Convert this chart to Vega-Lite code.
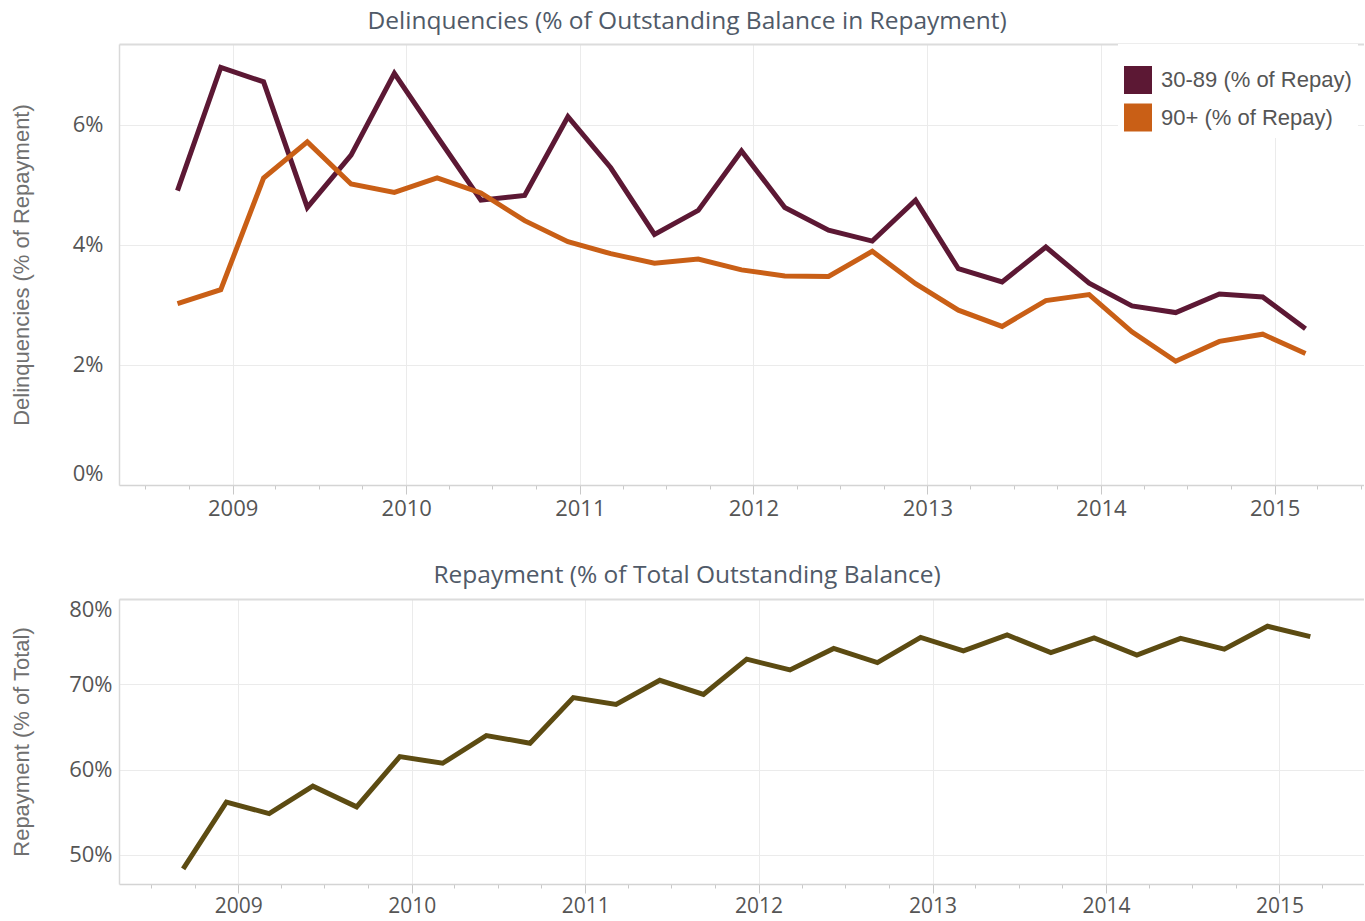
{
  "$schema": "https://vega.github.io/schema/vega-lite/v6.json",
  "background": "white",
  "padding": {"left": 10, "top": 8, "right": 0, "bottom": 0},
  "config": {
    "view": {"stroke": null},
    "font": "Open Sans",
    "title": {"font": "Open Sans", "fontSize": 24.5, "fontWeight": "normal", "color": "#505a68", "anchor": "middle", "frame": "bounds", "baseline": "alphabetic", "offset": 10}
  },
  "datasets": {
    "delinquency": [
      {"date": "2008-09-07", "series": "30-89 (% of Repay)", "value": 4.90},
      {"date": "2008-12-07", "series": "30-89 (% of Repay)", "value": 6.95},
      {"date": "2009-03-07", "series": "30-89 (% of Repay)", "value": 6.71},
      {"date": "2009-06-07", "series": "30-89 (% of Repay)", "value": 4.62},
      {"date": "2009-09-07", "series": "30-89 (% of Repay)", "value": 5.49},
      {"date": "2009-12-07", "series": "30-89 (% of Repay)", "value": 6.85},
      {"date": "2010-03-07", "series": "30-89 (% of Repay)", "value": 5.80},
      {"date": "2010-06-07", "series": "30-89 (% of Repay)", "value": 4.74},
      {"date": "2010-09-07", "series": "30-89 (% of Repay)", "value": 4.82},
      {"date": "2010-12-07", "series": "30-89 (% of Repay)", "value": 6.13},
      {"date": "2011-03-07", "series": "30-89 (% of Repay)", "value": 5.28},
      {"date": "2011-06-07", "series": "30-89 (% of Repay)", "value": 4.17},
      {"date": "2011-09-07", "series": "30-89 (% of Repay)", "value": 4.57},
      {"date": "2011-12-07", "series": "30-89 (% of Repay)", "value": 5.56},
      {"date": "2012-03-07", "series": "30-89 (% of Repay)", "value": 4.62},
      {"date": "2012-06-07", "series": "30-89 (% of Repay)", "value": 4.24},
      {"date": "2012-09-07", "series": "30-89 (% of Repay)", "value": 4.06},
      {"date": "2012-12-07", "series": "30-89 (% of Repay)", "value": 4.74},
      {"date": "2013-03-07", "series": "30-89 (% of Repay)", "value": 3.60},
      {"date": "2013-06-07", "series": "30-89 (% of Repay)", "value": 3.38},
      {"date": "2013-09-07", "series": "30-89 (% of Repay)", "value": 3.96},
      {"date": "2013-12-07", "series": "30-89 (% of Repay)", "value": 3.36},
      {"date": "2014-03-07", "series": "30-89 (% of Repay)", "value": 2.98},
      {"date": "2014-06-07", "series": "30-89 (% of Repay)", "value": 2.87},
      {"date": "2014-09-07", "series": "30-89 (% of Repay)", "value": 3.18},
      {"date": "2014-12-07", "series": "30-89 (% of Repay)", "value": 3.13},
      {"date": "2015-03-07", "series": "30-89 (% of Repay)", "value": 2.60},
      {"date": "2008-09-07", "series": "90+ (% of Repay)", "value": 3.02},
      {"date": "2008-12-07", "series": "90+ (% of Repay)", "value": 3.25},
      {"date": "2009-03-07", "series": "90+ (% of Repay)", "value": 5.11},
      {"date": "2009-06-07", "series": "90+ (% of Repay)", "value": 5.71},
      {"date": "2009-09-07", "series": "90+ (% of Repay)", "value": 5.01},
      {"date": "2009-12-07", "series": "90+ (% of Repay)", "value": 4.87},
      {"date": "2010-03-07", "series": "90+ (% of Repay)", "value": 5.11},
      {"date": "2010-06-07", "series": "90+ (% of Repay)", "value": 4.86},
      {"date": "2010-09-07", "series": "90+ (% of Repay)", "value": 4.40},
      {"date": "2010-12-07", "series": "90+ (% of Repay)", "value": 4.05},
      {"date": "2011-03-07", "series": "90+ (% of Repay)", "value": 3.85},
      {"date": "2011-06-07", "series": "90+ (% of Repay)", "value": 3.69},
      {"date": "2011-09-07", "series": "90+ (% of Repay)", "value": 3.76},
      {"date": "2011-12-07", "series": "90+ (% of Repay)", "value": 3.58},
      {"date": "2012-03-07", "series": "90+ (% of Repay)", "value": 3.48},
      {"date": "2012-06-07", "series": "90+ (% of Repay)", "value": 3.47},
      {"date": "2012-09-07", "series": "90+ (% of Repay)", "value": 3.89},
      {"date": "2012-12-07", "series": "90+ (% of Repay)", "value": 3.35},
      {"date": "2013-03-07", "series": "90+ (% of Repay)", "value": 2.91},
      {"date": "2013-06-07", "series": "90+ (% of Repay)", "value": 2.64},
      {"date": "2013-09-07", "series": "90+ (% of Repay)", "value": 3.07},
      {"date": "2013-12-07", "series": "90+ (% of Repay)", "value": 3.17},
      {"date": "2014-03-07", "series": "90+ (% of Repay)", "value": 2.55},
      {"date": "2014-06-07", "series": "90+ (% of Repay)", "value": 2.06},
      {"date": "2014-09-07", "series": "90+ (% of Repay)", "value": 2.39},
      {"date": "2014-12-07", "series": "90+ (% of Repay)", "value": 2.51},
      {"date": "2015-03-07", "series": "90+ (% of Repay)", "value": 2.19}
    ],
    "repayment": [
      {"date": "2008-09-07", "value": 48.36},
      {"date": "2008-12-07", "value": 56.2},
      {"date": "2009-03-07", "value": 54.85},
      {"date": "2009-06-07", "value": 58.07},
      {"date": "2009-09-07", "value": 55.64},
      {"date": "2009-12-07", "value": 61.53},
      {"date": "2010-03-07", "value": 60.75},
      {"date": "2010-06-07", "value": 64.0},
      {"date": "2010-09-07", "value": 63.1},
      {"date": "2010-12-07", "value": 68.44},
      {"date": "2011-03-07", "value": 67.64},
      {"date": "2011-06-07", "value": 70.47},
      {"date": "2011-09-07", "value": 68.81},
      {"date": "2011-12-07", "value": 72.95},
      {"date": "2012-03-07", "value": 71.69},
      {"date": "2012-06-07", "value": 74.2},
      {"date": "2012-09-07", "value": 72.55},
      {"date": "2012-12-07", "value": 75.5},
      {"date": "2013-03-07", "value": 73.93},
      {"date": "2013-06-07", "value": 75.78},
      {"date": "2013-09-07", "value": 73.73},
      {"date": "2013-12-07", "value": 75.43},
      {"date": "2014-03-07", "value": 73.42},
      {"date": "2014-06-07", "value": 75.39},
      {"date": "2014-09-07", "value": 74.13},
      {"date": "2014-12-07", "value": 76.81},
      {"date": "2015-03-07", "value": 75.59}
    ]
  },
  "columns": 1,
  "align": "none",
  "spacing": 43,
  "concat": [
    {
      "title": "Delinquencies (% of Outstanding Balance in Repayment)",
      "width": 1245,
      "height": 441,
      "data": {"name": "delinquency"},
      "layer": [
        {
          "mark": {"type": "line", "strokeWidth": 5},
          "encoding": {
            "x": {
              "field": "date", "type": "temporal",
              "scale": {"type": "utc", "domain": [{"year": 2008, "month": 5, "date": 7, "utc": true}, {"year": 2015, "month": 7, "date": 8, "utc": true}]},
              "axis": {
                "title": null,
                "values": [
                  {"year": 2008, "month": 7, "date": 1, "utc": true}, {"year": 2008, "month": 10, "date": 1, "utc": true},
                  {"year": 2009, "month": 1, "date": 1, "utc": true}, {"year": 2009, "month": 4, "date": 1, "utc": true}, {"year": 2009, "month": 7, "date": 1, "utc": true}, {"year": 2009, "month": 10, "date": 1, "utc": true},
                  {"year": 2010, "month": 1, "date": 1, "utc": true}, {"year": 2010, "month": 4, "date": 1, "utc": true}, {"year": 2010, "month": 7, "date": 1, "utc": true}, {"year": 2010, "month": 10, "date": 1, "utc": true},
                  {"year": 2011, "month": 1, "date": 1, "utc": true}, {"year": 2011, "month": 4, "date": 1, "utc": true}, {"year": 2011, "month": 7, "date": 1, "utc": true}, {"year": 2011, "month": 10, "date": 1, "utc": true},
                  {"year": 2012, "month": 1, "date": 1, "utc": true}, {"year": 2012, "month": 4, "date": 1, "utc": true}, {"year": 2012, "month": 7, "date": 1, "utc": true}, {"year": 2012, "month": 10, "date": 1, "utc": true},
                  {"year": 2013, "month": 1, "date": 1, "utc": true}, {"year": 2013, "month": 4, "date": 1, "utc": true}, {"year": 2013, "month": 7, "date": 1, "utc": true}, {"year": 2013, "month": 10, "date": 1, "utc": true},
                  {"year": 2014, "month": 1, "date": 1, "utc": true}, {"year": 2014, "month": 4, "date": 1, "utc": true}, {"year": 2014, "month": 7, "date": 1, "utc": true}, {"year": 2014, "month": 10, "date": 1, "utc": true},
                  {"year": 2015, "month": 1, "date": 1, "utc": true}, {"year": 2015, "month": 4, "date": 1, "utc": true}, {"year": 2015, "month": 7, "date": 1, "utc": true}
                ],
                "labelExpr": "utcmonth(datum.value) == 0 ? utcFormat(datum.value, '%Y') : ''",
                "labelOverlap": false,
                "labelFont": "Open Sans", "labelFontSize": 22, "labelColor": "#555555", "labelPadding": 4,
                "grid": true, "gridColor": "#ebebeb",
                "gridOpacity": {"condition": {"test": "utcmonth(datum.value) == 0", "value": 1}, "value": 0},
                "tickSize": {"condition": {"test": "utcmonth(datum.value) == 0", "value": 9}, "value": 4},
                "tickColor": "#c8c8c8",
                "domainColor": "#d4d4d4", "domainWidth": 1.5
              }
            },
            "y": {
              "field": "value", "type": "quantitative",
              "scale": {"domain": [0, 7.34], "nice": false, "zero": false},
              "axis": {
                "title": "Delinquencies (% of Repayment)",
                "titleFont": "Liberation Sans", "titleFontSize": 22, "titleFontWeight": "normal", "titleColor": "#707070", "titlePadding": 39,
                "values": [0, 2, 4, 6],
                "labelExpr": "datum.value + '%'",
                "labelFont": "Open Sans", "labelFontSize": 22, "labelColor": "#555555", "labelPadding": 16,
                "labelBaseline": {"condition": {"test": "datum.value == 0", "value": "bottom"}, "value": "middle"},
                "ticks": false, "grid": true, "gridColor": "#ebebeb",
                "domainColor": "#d9d9d9", "domainWidth": 1.5
              }
            },
            "color": {
              "field": "series", "type": "nominal",
              "scale": {"domain": ["30-89 (% of Repay)", "90+ (% of Repay)"], "range": ["#5c1834", "#c95f16"]},
              "legend": {
                "orient": "none", "legendX": 999, "legendY": 0,
                "title": " ", "titleFontSize": 10, "titlePadding": 6,
                "symbolType": "square", "symbolSize": 784, "symbolStrokeWidth": 0, "symbolOpacity": 1,
                "labelFont": "Liberation Sans", "labelFontSize": 22, "labelColor": "#555555", "labelLimit": 400,
                "labelOffset": 9, "rowPadding": 9.5, "padding": 6, "fillColor": "white",
                "encode": {
                  "symbols": {
                    "update": {
                      "fill": {"signal": "datum.value === '30-89 (% of Repay)' ? '#5c1834' : '#c95f16'"},
                      "stroke": {"value": "transparent"},
                      "strokeWidth": {"value": 0},
                      "opacity": {"value": 1}
                    }
                  }
                }
              }
            }
          }
        },
        {
          "mark": {"type": "point", "opacity": 0},
          "encoding": {
            "x": {"field": "date", "type": "temporal", "axis": {"orient": "top", "labels": false, "ticks": false, "grid": false, "domain": true, "domainColor": "#dcdcdc", "domainWidth": 2, "title": null}},
            "y": {"field": "value", "type": "quantitative"}
          }
        }
      ],
      "resolve": {"axis": {"x": "independent"}}
    },
    {
      "title": "Repayment (% of Total Outstanding Balance)",
      "width": 1245,
      "height": 285,
      "data": {"name": "repayment"},
      "layer": [
        {
          "mark": {"type": "line", "strokeWidth": 5, "color": "#5c4b12"},
          "encoding": {
            "x": {
              "field": "date", "type": "temporal",
              "scale": {"type": "utc", "domain": [{"year": 2008, "month": 4, "date": 25, "utc": true}, {"year": 2015, "month": 6, "date": 28, "utc": true}]},
              "axis": {
                "title": null,
                "values": [
                  {"year": 2008, "month": 7, "date": 1, "utc": true}, {"year": 2008, "month": 10, "date": 1, "utc": true},
                  {"year": 2009, "month": 1, "date": 1, "utc": true}, {"year": 2009, "month": 4, "date": 1, "utc": true}, {"year": 2009, "month": 7, "date": 1, "utc": true}, {"year": 2009, "month": 10, "date": 1, "utc": true},
                  {"year": 2010, "month": 1, "date": 1, "utc": true}, {"year": 2010, "month": 4, "date": 1, "utc": true}, {"year": 2010, "month": 7, "date": 1, "utc": true}, {"year": 2010, "month": 10, "date": 1, "utc": true},
                  {"year": 2011, "month": 1, "date": 1, "utc": true}, {"year": 2011, "month": 4, "date": 1, "utc": true}, {"year": 2011, "month": 7, "date": 1, "utc": true}, {"year": 2011, "month": 10, "date": 1, "utc": true},
                  {"year": 2012, "month": 1, "date": 1, "utc": true}, {"year": 2012, "month": 4, "date": 1, "utc": true}, {"year": 2012, "month": 7, "date": 1, "utc": true}, {"year": 2012, "month": 10, "date": 1, "utc": true},
                  {"year": 2013, "month": 1, "date": 1, "utc": true}, {"year": 2013, "month": 4, "date": 1, "utc": true}, {"year": 2013, "month": 7, "date": 1, "utc": true}, {"year": 2013, "month": 10, "date": 1, "utc": true},
                  {"year": 2014, "month": 1, "date": 1, "utc": true}, {"year": 2014, "month": 4, "date": 1, "utc": true}, {"year": 2014, "month": 7, "date": 1, "utc": true}, {"year": 2014, "month": 10, "date": 1, "utc": true},
                  {"year": 2015, "month": 1, "date": 1, "utc": true}, {"year": 2015, "month": 4, "date": 1, "utc": true}
                ],
                "labelExpr": "utcmonth(datum.value) == 0 ? utcFormat(datum.value, '%Y') : ''",
                "labelOverlap": false,
                "labelFont": "Open Sans", "labelFontSize": 21, "labelColor": "#555555", "labelPadding": 2,
                "grid": true, "gridColor": "#ebebeb",
                "gridOpacity": {"condition": {"test": "utcmonth(datum.value) == 0", "value": 1}, "value": 0},
                "tickSize": {"condition": {"test": "utcmonth(datum.value) == 0", "value": 9}, "value": 4},
                "tickColor": "#c8c8c8",
                "domainColor": "#d4d4d4", "domainWidth": 1.5
              }
            },
            "y": {
              "field": "value", "type": "quantitative",
              "scale": {"domain": [46.6, 80], "nice": false, "zero": false},
              "axis": {
                "title": "Repayment (% of Total)",
                "titleFont": "Liberation Sans", "titleFontSize": 22, "titleFontWeight": "normal", "titleColor": "#707070", "titlePadding": 35.5,
                "values": [50, 60, 70, 80],
                "labelExpr": "datum.value + '%'",
                "labelFont": "Open Sans", "labelFontSize": 22, "labelColor": "#555555", "labelPadding": 7,
                "labelBaseline": {"condition": {"test": "datum.value == 80", "value": "top"}, "value": "middle"},
                "ticks": false, "grid": true, "gridColor": "#ebebeb",
                "domainColor": "#d9d9d9", "domainWidth": 1.5
              }
            }
          }
        },
        {
          "mark": {"type": "point", "opacity": 0},
          "encoding": {
            "x": {"field": "date", "type": "temporal", "axis": {"orient": "top", "labels": false, "ticks": false, "grid": false, "domain": true, "domainColor": "#dcdcdc", "domainWidth": 2, "title": null}},
            "y": {"field": "value", "type": "quantitative"}
          }
        }
      ],
      "resolve": {"axis": {"x": "independent"}}
    }
  ]
}
